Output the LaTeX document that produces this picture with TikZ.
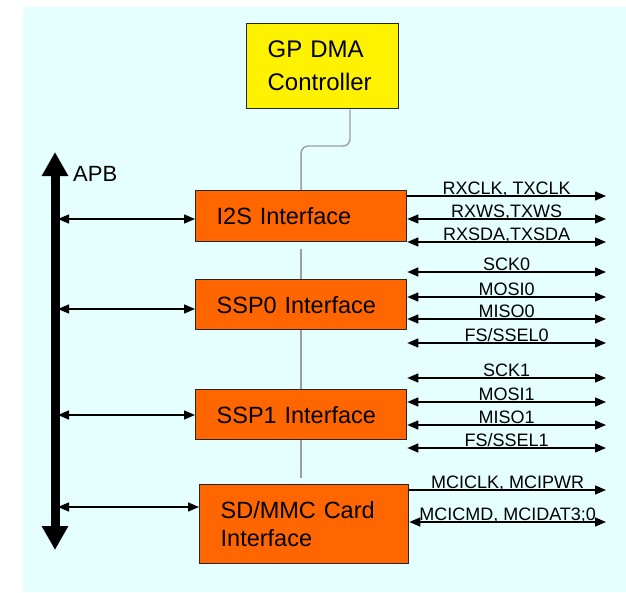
\documentclass[tikz,border=0pt]{standalone}
\usepackage{fontspec}
\setmainfont{Liberation Sans}
\usepackage{xcolor}
\usepackage{tikz}
\usetikzlibrary{arrows.meta, positioning, calc}
\definecolor{bgcyan}{RGB}{229,255,255}
\definecolor{ifaceorange}{RGB}{255,102,0}

\begin{document}
\begin{tikzpicture}[x=1pt, y=-1pt,
  iface/.style={draw=black!85, line width=1.3pt, fill=ifaceorange, anchor=north west, inner xsep=21pt, inner ysep=0pt, text width=169pt, align=left, font=\fontsize{23.5}{28}\selectfont},
  sig/.style={line width=1.4pt, {Triangle[length=11pt,width=9pt]}-{Triangle[length=11pt,width=9pt]}},
  sigout/.style={line width=1.4pt, -{Triangle[length=11pt,width=9pt]}},
  siglabel/.style={midway, anchor=base, yshift=1.5pt, inner sep=0pt, font=\fontsize{18}{21}\selectfont},
  dmaline/.style={draw=black!38, line width=1.4pt}]
\useasboundingbox (0,0) rectangle (626,592);
\fill[bgcyan] (23,7) rectangle (626,592);
% blocks
\node[draw=black!85, line width=1.3pt, fill=yellow, anchor=north west, inner xsep=21pt, text width=110pt, minimum height=85pt, align=left, font=\fontsize{24}{33}\selectfont] (dma) at (246,23) {GP DMA\\Controller};
\node[iface, minimum height=51pt] (i2s) at (195,190) {I2S Interface};
\node[iface, minimum height=50pt] (ssp0) at (195,279) {SSP0 Interface};
\node[iface, minimum height=50pt] (ssp1) at (195,389) {SSP1 Interface};
\node[iface, text width=167pt, minimum height=79pt] (sd) at (199,484) {SD/MMC Card\\Interface};
% DMA link
\coordinate (dmatap) at (350,146);
\draw[dmaline, rounded corners=7pt] (dma.south -| dmatap) -- (dmatap) -- (dmatap -| i2s.north) -- (i2s.north);
\draw[dmaline, shorten <=7pt] (i2s.south) -- (ssp0.north);
\draw[dmaline] (ssp0.south) -- (ssp1.north);
\draw[dmaline, shorten >=6pt] (ssp1.south) -- (ssp1.south |- sd.north);
% APB bus
\coordinate (apbtop) at (55,152);
\coordinate (apbbot) at (55,550);
\draw[line width=9pt, {Triangle[length=24pt,width=25pt]}-{Triangle[length=24pt,width=25pt]}] (apbtop) -- (apbbot);
\node[anchor=base west, inner sep=0pt, font=\fontsize{22}{26}\selectfont] (apb) at (73,181) {APB};
\coordinate (b1) at (58,219);
\coordinate (b2) at (58,309);
\coordinate (b3) at (58,415);
\coordinate (b4) at (58,507);
\draw[sig] (b1) -- (b1 -| i2s.west);
\draw[sig] (b2) -- (b2 -| ssp0.west);
\draw[sig] (b3) -- (b3 -| ssp1.west);
\draw[sig] (b4) -- (b4 -| sd.west);
% I2S pins
\coordinate (rxclk) at (606,196);
\coordinate (rxws) at (606,219);
\coordinate (rxsda) at (606,242);
\draw[sigout] (i2s.east |- rxclk) -- (rxclk) node[siglabel] {RXCLK, TXCLK};
\draw[sig] (i2s.east |- rxws) -- (rxws) node[siglabel] {RXWS,TXWS};
\draw[sig] (i2s.east |- rxsda) -- (rxsda) node[siglabel] {RXSDA,TXSDA};
% SSP0 pins
\coordinate (sck0) at (606,272);
\coordinate (mosi0) at (606,297);
\coordinate (miso0) at (606,319);
\coordinate (ssel0) at (606,343);
\draw[sig] (ssp0.east |- sck0) -- (sck0) node[siglabel] {SCK0};
\draw[sig] (ssp0.east |- mosi0) -- (mosi0) node[siglabel] {MOSI0};
\draw[sig] (ssp0.east |- miso0) -- (miso0) node[siglabel] {MISO0};
\draw[sig] (ssp0.east |- ssel0) -- (ssel0) node[siglabel] {FS/SSEL0};
% SSP1 pins
\coordinate (sck1) at (606,378);
\coordinate (mosi1) at (606,402);
\coordinate (miso1) at (606,425);
\coordinate (ssel1) at (606,448);
\draw[sig] (ssp1.east |- sck1) -- (sck1) node[siglabel] {SCK1};
\draw[sig] (ssp1.east |- mosi1) -- (mosi1) node[siglabel] {MOSI1};
\draw[sig] (ssp1.east |- miso1) -- (miso1) node[siglabel] {MISO1};
\draw[sig] (ssp1.east |- ssel1) -- (ssel1) node[siglabel] {FS/SSEL1};
% SD/MMC pins
\coordinate (mciclk) at (606,490);
\coordinate (mcicmd) at (606,522);
\draw[sigout] (sd.east |- mciclk) -- (mciclk) node[siglabel] {MCICLK, MCIPWR};
\draw[sig] (sd.east |- mcicmd) -- (mcicmd) node[siglabel] {MCICMD, MCIDAT3;0};
\end{tikzpicture}
\end{document}
